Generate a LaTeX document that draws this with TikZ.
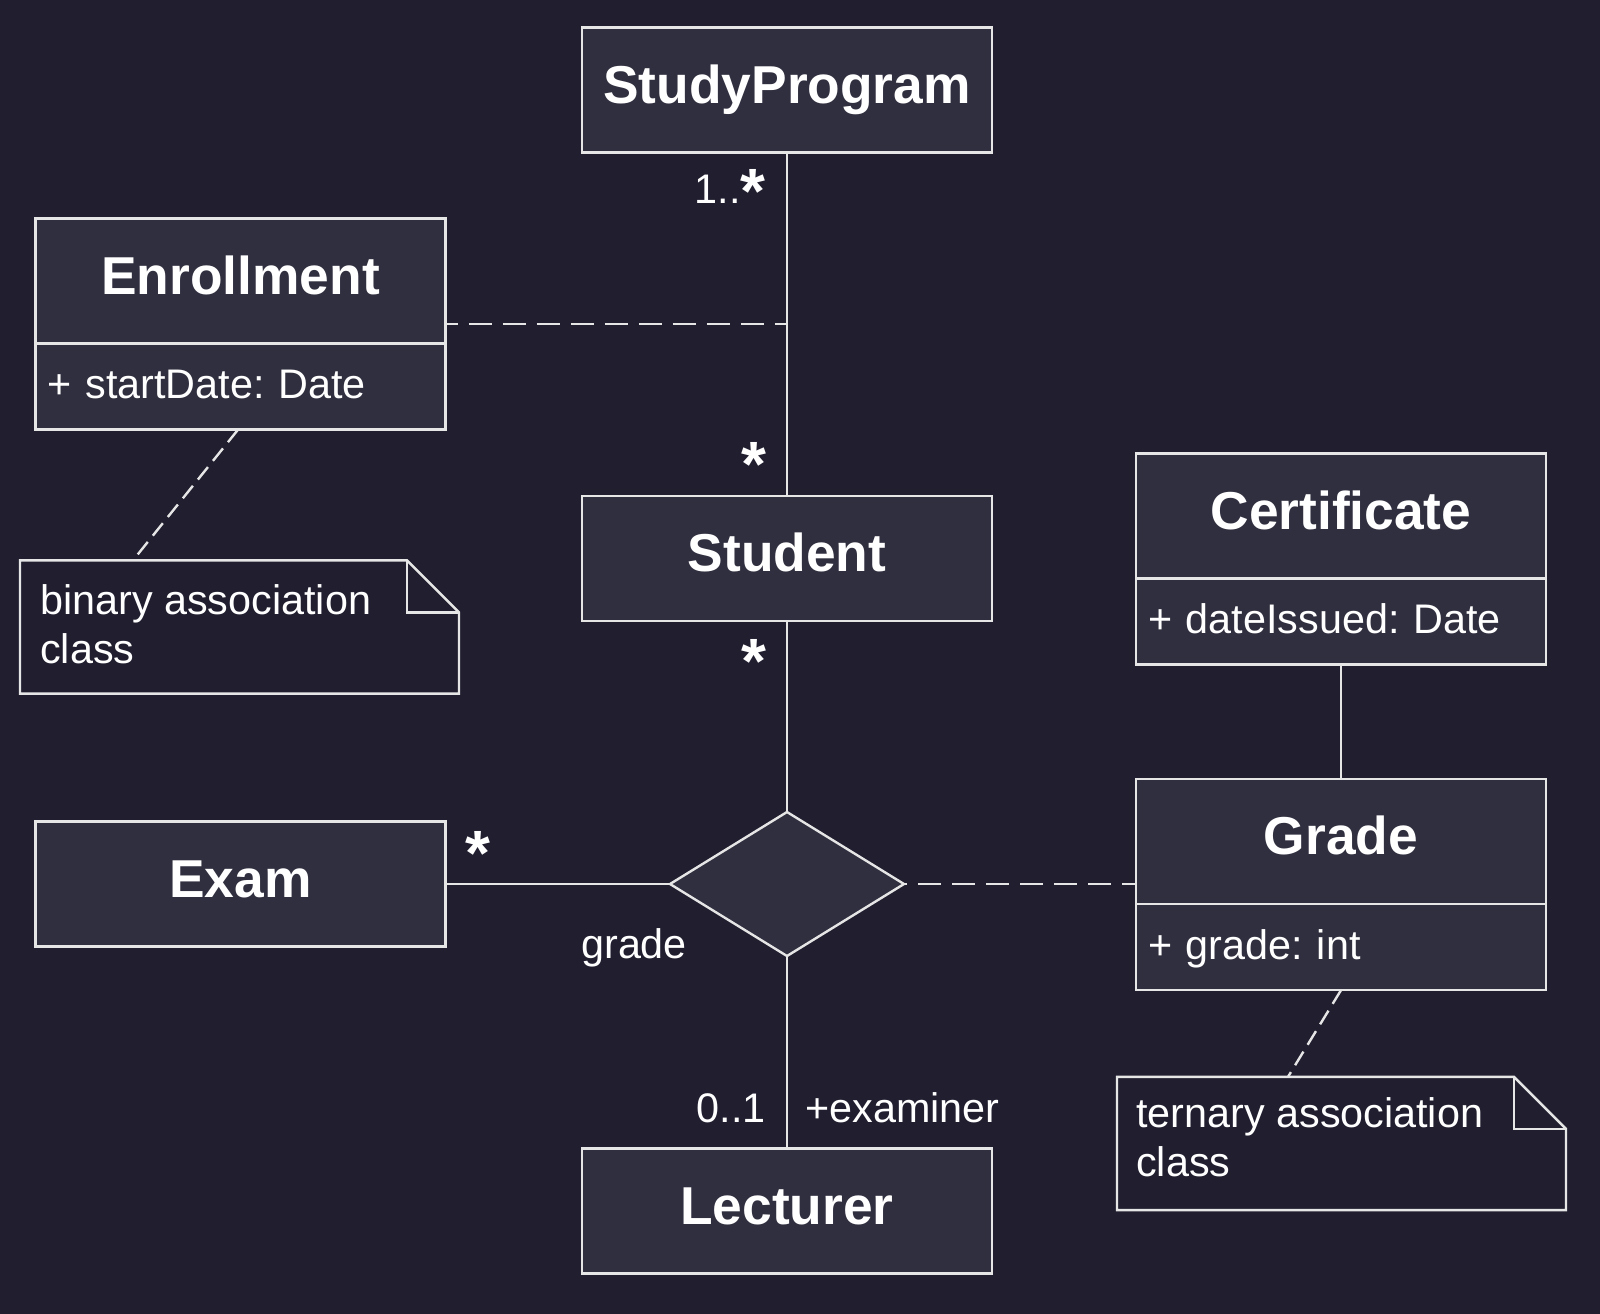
\documentclass[tikz,border=0pt]{standalone}
\usepackage{fontspec}
\setmainfont{Liberation Sans}
\usetikzlibrary{shapes.geometric,calc}

\definecolor{bgc}{HTML}{201E2F}
\definecolor{boxc}{HTML}{302F3F}
\definecolor{linec}{HTML}{E6E6E6}

% multiplicity star: large bold asterisk, set a little lower
\newcommand\mstar{\raisebox{-7.5pt}{\fontsize{48pt}{48pt}\selectfont\bfseries *}}

\begin{document}
\frenchspacing
\begin{tikzpicture}[x=0.75pt,y=-0.75pt,
  every node/.style={text=white},
  uml/.style={draw=linec,line width=1.8pt},
  classhead/.style={uml,fill=boxc,rectangle,inner sep=0pt,outer sep=0pt,
    minimum width=307.5pt,minimum height=94pt,
    text height=30pt,text depth=10.5pt,
    font=\fontsize{40pt}{48pt}\selectfont\bfseries},
  classattr/.style={uml,fill=boxc,rectangle,inner ysep=0pt,inner xsep=9pt,outer sep=0pt,
    text width=289.5pt,align=left,minimum height=64.5pt,
    text height=23pt,text depth=5pt,
    font=\fontsize{31pt}{37pt}\selectfont},
  assoc/.style={uml,fill=boxc,diamond,inner sep=0pt,outer sep=0pt,
    minimum width=175.5pt,minimum height=108pt},
  notearea/.style={rectangle,inner sep=0pt,outer sep=0pt,minimum height=100pt},
  notetext/.style={inner sep=0pt,align=left,anchor=north west,
    font=\fontsize{31pt}{37.1pt}\selectfont},
  lbl/.style={inner sep=0pt,font=\fontsize{31pt}{37pt}\selectfont},
  link/.style={uml},
  longdash/.style={uml,dash pattern=on 17.25pt off 8.25pt},
  shortdash/.style={uml,dash pattern=on 12pt off 6pt},
]
% canvas
\useasboundingbox (0,0) rectangle (1600,1314);
\fill[bgc] (0,0) rectangle (1600,1314);

% classes
\node[classhead] (studyprog) at (787,90) {StudyProgram};
\node[classhead] (enrollH) at (240.5,281) {Enrollment};
\node[classattr,anchor=north] (enrollA) at (enrollH.south) {+ startDate: Date};
\node[classhead] (student) at (787,558.5) {Student};
\node[classhead] (exam) at (240.5,884) {Exam};
\node[classhead] (lecturer) at (787,1211) {Lecturer};
\node[classhead] (certH) at (1341,516) {Certificate};
\node[classattr,anchor=north] (certA) at (certH.south) {+ dateIssued: Date};
\node[classhead] (gradeH) at (1341,841.5) {Grade};
\node[classattr,anchor=north] (gradeA) at (gradeH.south) {+ grade: int};

% ternary association diamond
\node[assoc] (tern) at (787,884) {};

% notes
\node[notearea,minimum width=329.25pt] (binNote) at (239.5,627) {};
\node[notearea,minimum width=336.75pt] (ternNote) at (1341.5,1143.5) {};
\foreach \n in {binNote,ternNote}{
  \draw[uml,fill=bgc] (\n.north west) -- ($(\n.north east)+(-52,0)$)
    -- ($(\n.north east)+(0,52)$) -- (\n.south east) -- (\n.south west) -- cycle;
  \draw[uml] ($(\n.north east)+(-52,0)$) -- ($(\n.north east)+(-52,52)$)
    -- ($(\n.north east)+(0,52)$);
}
\node[notetext] (binText) at (40,584) {binary association\\class};
\node[notetext] (ternText) at (1136,1097) {ternary association\\class};

% associations
\draw[link] (studyprog.south) -- (student.north);
\coordinate (enrollLink) at (787,324);
\draw[longdash,dash phase=8.25pt] (enrollLink -| enrollH.east) -- (enrollLink);
\draw[link] (student.south) -- (tern.north);
\draw[link] (exam.east) -- (tern.west);
\draw[link] (tern.south) -- (lecturer.north);
\draw[longdash,dash phase=6.75pt] (tern.east -| gradeH.west) -- (tern.east);
\draw[link] (certA.south) -- (gradeH.north);

% note anchors
\draw[shortdash] ($(enrollA.south)+(-2.5,0)$) -- ($(binNote.north west)+(113,0)$);
\draw[shortdash] (gradeA.south) -- ($(ternNote.north west)+(171,0)$);

% multiplicities and role names
\node[lbl,anchor=base east] (mProg) at (766,203) {1..\mstar};
\node[lbl,anchor=base east] (mStudTop) at (767,476) {\mstar};
\node[lbl,anchor=base east] (mStudBot) at (767,673) {\mstar};
\node[lbl,anchor=base west] (mExam) at (465,865) {\mstar};
\node[lbl,anchor=base west] (gradeLbl) at (581,958) {grade};
\node[lbl,anchor=base east] (mLect) at (766,1122) {0..1};
\node[lbl,anchor=base west] (roleLect) at (805,1122) {+examiner};
\end{tikzpicture}
\end{document}
